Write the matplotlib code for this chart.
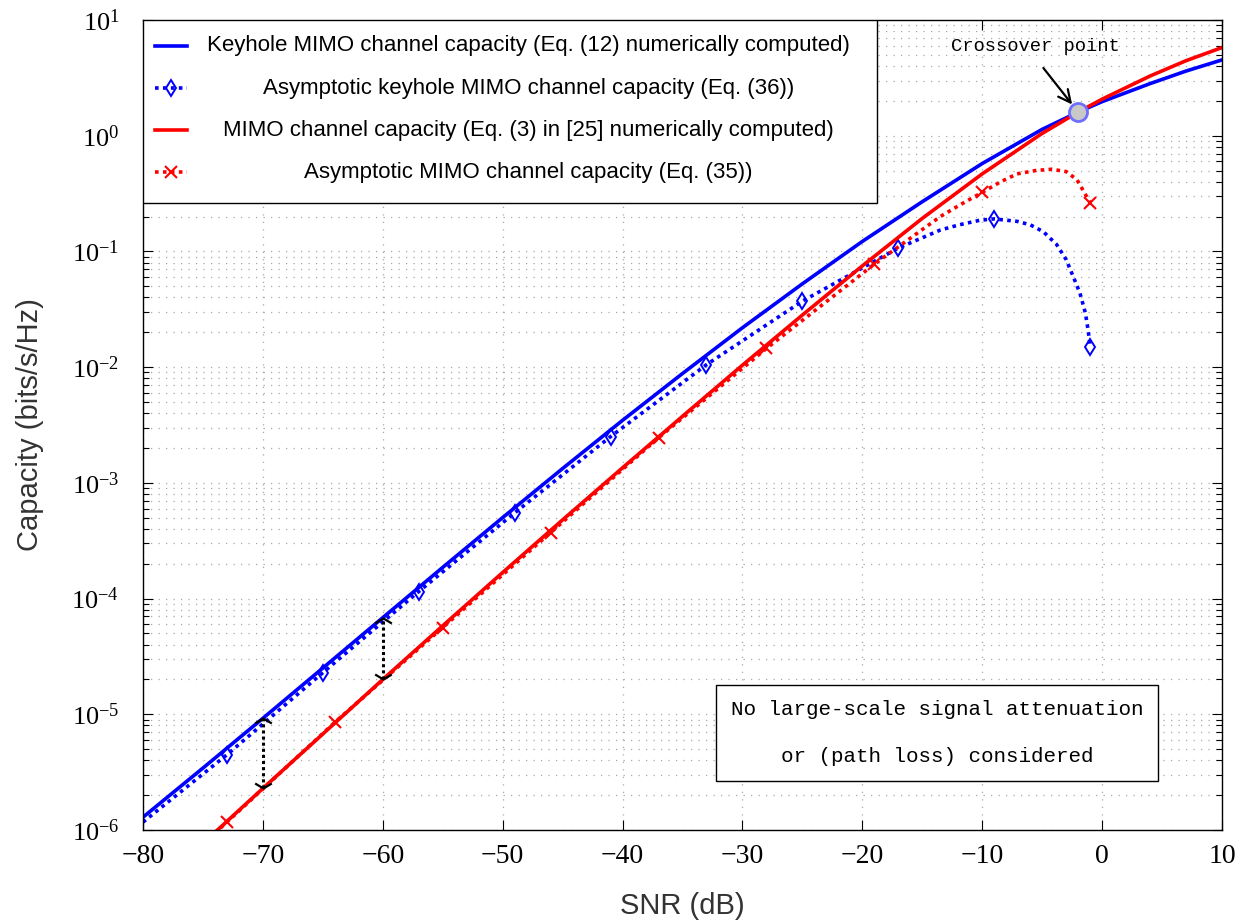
import numpy as np
import matplotlib
matplotlib.use("Agg")
import matplotlib.pyplot as plt
from matplotlib.patches import Rectangle
from matplotlib.lines import Line2D
from matplotlib.ticker import FixedLocator, NullFormatter

# ---- values ----
# keyhole MIMO capacity, Eq. (12)
snr_keyhole = [-80, -75, -70, -65, -60, -55, -50, -45, -40, -35, -30, -25,
               -20, -15, -10, -5, -2, 0, 4, 7, 10]
cap_keyhole = [1.29e-6, 3.43e-6, 9.23e-6, 2.51e-5, 6.84e-5, 1.86e-4, 5.01e-4,
               1.33e-3, 3.47e-3, 8.81e-3, 2.19e-2, 5.25e-2, 0.122, 0.269,
               0.575, 1.135, 1.60, 1.97, 2.82, 3.62, 4.52]

# asymptotic keyhole capacity, Eq. (36)
snr_keyhole_asym = [-80, -73, -65, -57, -49, -41, -33, -25, -17, -13.5, -11.9,
                    -10.2, -9, -7.1, -6, -4.9, -3.8, -3.0, -2.4, -1.85, -1.4,
                    -1.15, -1]
cap_keyhole_asym = [1.17e-6, 4.47e-6, 2.29e-5, 1.15e-4, 5.50e-4, 2.51e-3,
                    1.05e-2, 3.72e-2, 0.107, 0.153, 0.170, 0.186, 0.191, 0.182,
                    0.170, 0.148, 0.115, 0.0851, 0.0603, 0.0437, 0.0295,
                    0.0204, 0.0148]
marks_keyhole = [-73, -65, -57, -49, -41, -33, -25, -17, -9, -1]

# MIMO capacity, Eq. (3) in [25]
snr_mimo = [-75, -70, -65, -60, -55, -50, -45, -40, -35, -30, -25, -20, -15,
            -10, -5, -2, 0, 4, 7, 10]
cap_mimo = [7.67e-7, 2.29e-6, 6.76e-6, 2.00e-5, 5.82e-5, 1.68e-4, 4.79e-4,
            1.35e-3, 3.76e-3, 1.04e-2, 2.82e-2, 7.50e-2, 0.193, 0.468, 1.047,
            1.60, 2.07, 3.28, 4.45, 5.78]

# asymptotic MIMO capacity, Eq. (35)
snr_mimo_asym = [-75, -73, -64, -55, -46, -37, -28, -19, -13.5, -11.9, -10,
                 -8.5, -7.1, -5.5, -4.2, -3.0, -2.1, -1.6, -1]
cap_mimo_asym = [7.59e-7, 1.17e-6, 8.51e-6, 5.62e-5, 3.72e-4, 2.45e-3,
                 1.45e-2, 7.76e-2, 0.200, 0.251, 0.324, 0.398, 0.468, 0.501,
                 0.513, 0.490, 0.417, 0.339, 0.263]
marks_mimo = [-73, -64, -55, -46, -37, -28, -19, -10, -1]

crossover_snr, crossover_cap = -2.0, 1.60
gap_snr = [-70, -60]

labels = ["Keyhole MIMO channel capacity (Eq. (12) numerically computed)",
          "Asymptotic keyhole MIMO channel capacity (Eq. (36))",
          "MIMO channel capacity (Eq. (3) in [25] numerically computed)",
          "Asymptotic MIMO channel capacity (Eq. (35))"]

y_decades = [1e-6, 1e-5, 1e-4, 1e-3, 1e-2, 1e-1, 1e0, 1e1]

plt.rcParams['font.family'] = ['Liberation Serif', 'DejaVu Serif']
plt.rcParams['mathtext.fontset'] = 'stix'

dots = (0, (1, 1.2))
styles = [dict(color='blue', ls='-', lw=2.6),
          dict(color='blue', ls=dots, lw=2.6, marker='d', ms=8.5, mfc='none', mew=1.4),
          dict(color='red', ls='-', lw=2.6),
          dict(color='red', ls=dots, lw=2.6, marker='x', ms=9, mew=1.5)]

fig = plt.figure(figsize=(12.45, 9.24), dpi=100)
ax = fig.add_axes([143/1245, 1 - 830/924, 1079/1245, 810/924])

ax.plot(snr_keyhole, cap_keyhole, **styles[0])
idx_k = list(np.nonzero(np.isin(snr_keyhole_asym, marks_keyhole))[0])
ax.plot(snr_keyhole_asym, cap_keyhole_asym, markevery=idx_k, **styles[1])
ax.plot(snr_mimo, cap_mimo, **styles[2])
idx_m = list(np.nonzero(np.isin(snr_mimo_asym, marks_mimo))[0])
ax.plot(snr_mimo_asym, cap_mimo_asym, markevery=idx_m, **styles[3])

# dotted double arrows between the two exact curves
up = [(-1, -0.6), (0, 0), (1, -0.6)]
down = [(-1, 0.6), (0, 0), (1, 0.6)]
for s in gap_snr:
    hi = cap_keyhole[snr_keyhole.index(s)]
    lo = cap_mimo[snr_mimo.index(s)]
    ax.vlines(s, lo, hi, colors='black', linestyles=(0, (1, 1)), lw=2.2, zorder=4)
    ax.plot(s, hi, marker=up, ms=12, mfc='none', mec='black', mew=1.6, zorder=4)
    ax.plot(s, lo, marker=down, ms=12, mfc='none', mec='black', mew=1.6, zorder=4)

# crossover point
ax.plot(crossover_snr, crossover_cap, 'o', ms=13, mfc='#c8c8c8', mec='#6f6fff',
        mew=2, zorder=8)
ax.annotate('', xy=(crossover_snr, crossover_cap), xytext=(-4.9, 3.85),
            arrowprops=dict(arrowstyle='->', lw=1.6, color='black',
                            mutation_scale=22, shrinkA=0, shrinkB=7), zorder=8)
ax.text(-5.6, 5.96, 'Crossover point', ha='center', va='center',
        family='Liberation Mono', fontsize=13.5)

ax.text(0.736, 0.120, "No large-scale signal attenuation\nor (path loss) considered",
        transform=ax.transAxes, ha='center', va='center', multialignment='center',
        family='Liberation Mono', fontsize=15, linespacing=2.9, zorder=6,
        bbox=dict(boxstyle='square,pad=0.7', fc='white', ec='black', lw=1.0))

# legend (text centred like the pgfplots original)
ax.add_patch(Rectangle((0, 0.774), 0.680, 0.226, transform=ax.transAxes,
                       fc='white', ec='black', lw=1.0, zorder=9))
rows = [0.968, 0.916, 0.864, 0.812]
for y, lab, st in zip(rows, labels, styles):
    ax.add_line(Line2D([0.011, 0.026, 0.041], [y, y, y], transform=ax.transAxes,
                       markevery=[1], zorder=10, **st))
    ax.text(0.357, y, lab, transform=ax.transAxes, ha='center', va='center',
            family='Liberation Sans', fontsize=16, zorder=10)

ax.set_yscale('log')
ax.set_xlim(-80, 10)
ax.set_ylim(1e-6, 10)
ax.set_xticks(range(-80, 11, 10))
ax.set_yticks(y_decades)
minor = [m * d for d in y_decades[:-1] for m in range(2, 10)]
ax.yaxis.set_minor_locator(FixedLocator(minor))
ax.yaxis.set_minor_formatter(NullFormatter())

ax.grid(True, which='major', ls=(0, (1, 5)), color='#a8a8a8', lw=0.9)
ax.grid(True, which='minor', axis='y', ls=(0, (1, 5)), color='#a8a8a8', lw=0.9)
ax.tick_params(which='both', direction='in', top=True, right=True, width=0.8)
ax.tick_params(which='major', length=7)
ax.tick_params(which='minor', length=4)
ax.tick_params(axis='x', labelsize=20, pad=10)
ax.tick_params(axis='y', labelsize=19, pad=17)
for sp in ax.spines.values():
    sp.set_linewidth(1.0)

ax.set_xlabel('SNR (dB)', family='Liberation Sans', fontsize=21, color='#333333',
              labelpad=17)
ax.set_ylabel('Capacity (bits/s/Hz)', family='Liberation Sans', fontsize=21,
              color='#333333', labelpad=20)

fig.savefig('out.png', dpi=100)
